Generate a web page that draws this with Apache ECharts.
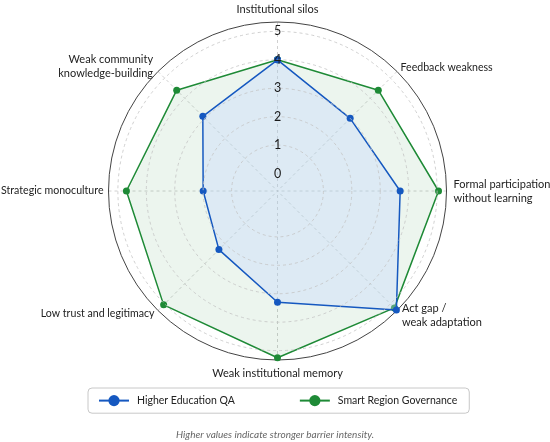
<!DOCTYPE html>
<html>
<head>
<meta charset="utf-8">
<script src="https://cdn.jsdelivr.net/npm/echarts@6/dist/echarts.min.js"></script>
<style>
html,body{margin:0;padding:0;background:#fff;}
#chart{width:550px;height:442px;}
</style>
</head>
<body>
<div id="chart"></div>
<script>
const categories = [
  'Institutional silos',
  'Feedback weakness',
  'Formal participation\nwithout learning',
  'Act gap /\nweak adaptation',
  'Weak institutional memory',
  'Low trust and legitimacy',
  'Strategic monoculture',
  'Weak community\nknowledge-building'
];
const higherEducationQA = [4.0, 3.0, 3.7, 5.3, 3.3, 2.3, 2.0, 3.1];
const smartRegionGovernance = [4.0, 4.4, 5.05, 5.2, 5.25, 5.05, 4.7, 4.4];
const ringValues = [1, 2, 3, 4, 5];
const radialLabels = [0, 1, 2, 3, 4, 5];
const seriesNames = ['Higher Education QA', 'Smart Region Governance'];
const caption = 'Higher values indicate stronger barrier intensity.';

const step = 360 / categories.length;
function toPolar(values) {
  const d = values.map((v, i) => [v, i * step]);
  d.push([values[0], 360]);
  return d;
}

const font = 'Lato, "Noto Sans", sans-serif';
const center = [277.5, 191];
const radius = 169;
const rMin = -0.615, rMax = 5.33;

// label groups: 0 = top/bottom, 1 = single-line sides, 2 = two-line sides
function labelGroup(i) {
  const name = categories[i];
  if (i === 0 || i === 4) return 0;
  return name.indexOf('\n') >= 0 ? 2 : 1;
}
function labelFormatter(group) {
  return function (v) {
    if (v >= 360) return '';
    const i = Math.round(v / step);
    return labelGroup(i) === group ? categories[i] : '';
  };
}

function angleAxis(polarIndex, main, group, margin, pad, size) {
  return {
    polarIndex: polarIndex,
    type: 'value',
    min: 0,
    max: 360,
    interval: step,
    startAngle: 90,
    clockwise: true,
    axisLine: {show: main, lineStyle: {color: '#444', width: 1}},
    axisTick: {show: false},
    splitLine: {show: main, lineStyle: {color: '#c4c4c4', type: [3, 3], width: 0.8}},
    axisLabel: {
      show: true,
      margin: margin,
      padding: pad,
      fontSize: size,
      color: '#222',
      fontFamily: font,
      lineHeight: 14,
      formatter: labelFormatter(group)
    }
  };
}
function hiddenRadius(polarIndex) {
  return {
    polarIndex: polarIndex, type: 'value', min: rMin, max: rMax,
    axisLine: {show: false}, axisTick: {show: false}, splitLine: {show: false}, axisLabel: {show: false}
  };
}

const chart = echarts.init(document.getElementById('chart'), null, {renderer: 'canvas'});
chart.setOption({
  animation: false,
  backgroundColor: '#fff',
  textStyle: {fontFamily: font},
  title: {
    text: caption,
    left: 'center',
    top: 425,
    textStyle: {fontSize: 10, fontStyle: 'italic', fontWeight: 'normal', color: '#666', fontFamily: font}
  },
  legend: {
    data: seriesNames,
    left: 88,
    top: 388,
    padding: [7, 12, 7, 10],
    itemGap: 64,
    itemWidth: 30,
    itemHeight: 14,
    borderColor: '#c8c8c8',
    borderWidth: 1,
    borderRadius: 4,
    textStyle: {fontSize: 10.5, color: '#222', fontFamily: font, padding: [0, 0, 0, 3]}
  },
  polar: [
    {center: center, radius: radius},
    {center: center, radius: radius},
    {center: center, radius: radius}
  ],
  angleAxis: [
    angleAxis(0, true, 0, 6, 0, 11),
    angleAxis(1, false, 1, 5, [-7, 0, -7, 0], 10.6),
    angleAxis(2, false, 2, 7, [-14, 0, -14, 0], 11)
  ],
  radiusAxis: [
    {
      polarIndex: 0,
      type: 'value',
      min: rMin,
      max: rMax,
      z: 10,
      axisLine: {show: false},
      axisTick: {show: false, customValues: ringValues},
      splitLine: {show: true, lineStyle: {color: '#c4c4c4', type: [3, 3], width: 0.8}},
      axisLabel: {
        show: true,
        customValues: radialLabels,
        margin: 0,
        align: 'center',
        verticalAlign: 'middle',
        padding: [0, 0, 5, 0],
        fontSize: 12.5,
        color: '#1a1a1a',
        fontFamily: font
      }
    },
    hiddenRadius(1),
    hiddenRadius(2)
  ],
  series: [
    {
      name: seriesNames[1],
      type: 'line',
      coordinateSystem: 'polar',
      polarIndex: 0,
      data: toPolar(smartRegionGovernance),
      symbol: 'circle',
      symbolSize: 7,
      lineStyle: {color: '#1e8a36', width: 1.5},
      itemStyle: {color: '#1e8a36'},
      areaStyle: {color: 'rgba(30,140,55,0.12)', origin: 'start'},
      z: 2
    },
    {
      name: seriesNames[0],
      type: 'line',
      coordinateSystem: 'polar',
      polarIndex: 0,
      data: toPolar(higherEducationQA),
      symbol: 'circle',
      symbolSize: 7,
      lineStyle: {color: '#1558c0', width: 1.5},
      itemStyle: {color: '#1558c0'},
      areaStyle: {color: 'rgba(194,215,255,0.5)', origin: 'start'},
      z: 3
    }
  ]
});
</script>
</body>
</html>
